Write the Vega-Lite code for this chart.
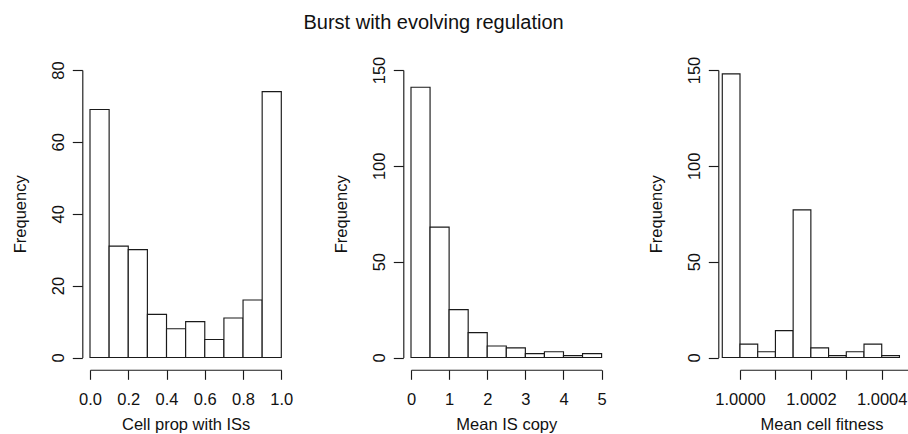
{
  "$schema": "https://vega.github.io/schema/vega-lite/v6.json",
  "background": "white",
  "padding": {"left": 12, "top": 13, "right": 0, "bottom": 0},
  "title": {
    "text": "Burst with evolving regulation",
    "fontSize": 20,
    "fontWeight": "normal",
    "font": "Liberation Sans",
    "color": "#111",
    "anchor": "start",
    "frame": "group",
    "baseline": "alphabetic",
    "offset": 7.2,
    "dx": 213.5
  },
  "datasets": {
    "prop": [
      {"bin_start": 0.0, "bin_end": 0.1, "count": 69},
      {"bin_start": 0.1, "bin_end": 0.2, "count": 31},
      {"bin_start": 0.2, "bin_end": 0.3, "count": 30},
      {"bin_start": 0.3, "bin_end": 0.4, "count": 12},
      {"bin_start": 0.4, "bin_end": 0.5, "count": 8},
      {"bin_start": 0.5, "bin_end": 0.6, "count": 10},
      {"bin_start": 0.6, "bin_end": 0.7, "count": 5},
      {"bin_start": 0.7, "bin_end": 0.8, "count": 11},
      {"bin_start": 0.8, "bin_end": 0.9, "count": 16},
      {"bin_start": 0.9, "bin_end": 1.0, "count": 74}
    ],
    "copy": [
      {"bin_start": 0.0, "bin_end": 0.5, "count": 141},
      {"bin_start": 0.5, "bin_end": 1.0, "count": 68},
      {"bin_start": 1.0, "bin_end": 1.5, "count": 25},
      {"bin_start": 1.5, "bin_end": 2.0, "count": 13},
      {"bin_start": 2.0, "bin_end": 2.5, "count": 6},
      {"bin_start": 2.5, "bin_end": 3.0, "count": 5},
      {"bin_start": 3.0, "bin_end": 3.5, "count": 2},
      {"bin_start": 3.5, "bin_end": 4.0, "count": 3},
      {"bin_start": 4.0, "bin_end": 4.5, "count": 1},
      {"bin_start": 4.5, "bin_end": 5.0, "count": 2}
    ],
    "fit": [
      {"bin_start": 0.99995, "bin_end": 1.0, "count": 148},
      {"bin_start": 1.0, "bin_end": 1.00005, "count": 7},
      {"bin_start": 1.00005, "bin_end": 1.0001, "count": 3},
      {"bin_start": 1.0001, "bin_end": 1.00015, "count": 14},
      {"bin_start": 1.00015, "bin_end": 1.0002, "count": 77},
      {"bin_start": 1.0002, "bin_end": 1.00025, "count": 5},
      {"bin_start": 1.00025, "bin_end": 1.0003, "count": 1},
      {"bin_start": 1.0003, "bin_end": 1.00035, "count": 3},
      {"bin_start": 1.00035, "bin_end": 1.0004, "count": 7},
      {"bin_start": 1.0004, "bin_end": 1.00045, "count": 1}
    ]
  },
  "spacing": 129,
  "bounds": "flush",
  "hconcat": [
    {
      "width": 191.3,
      "height": 287.5,
      "data": {"name": "prop"},
      "mark": {"type": "bar", "fill": "white", "stroke": "#1a1a1a", "strokeWidth": 1.15},
      "encoding": {
        "x": {"field": "bin_start", "type": "quantitative", "scale": {"domain": [0, 1], "nice": false, "zero": false},
              "axis": {"title": "Cell prop with ISs", "values": [0, 0.2, 0.4, 0.6, 0.8, 1], "format": ".1f"}},
        "x2": {"field": "bin_end"},
        "y": {"field": "count", "type": "quantitative", "scale": {"domain": [0, 80], "nice": false},
              "axis": {"title": "Frequency", "values": [0, 20, 40, 60, 80]}},
        "y2": {"datum": 0}
      }
    },
    {
      "width": 199.6,
      "height": 287.5,
      "data": {"name": "copy"},
      "mark": {"type": "bar", "fill": "white", "stroke": "#1a1a1a", "strokeWidth": 1.15},
      "encoding": {
        "x": {"field": "bin_start", "type": "quantitative", "scale": {"domain": [0, 5], "range": [0, 190.6], "nice": false, "zero": false},
              "axis": {"title": "Mean IS copy", "values": [0, 1, 2, 3, 4, 5], "format": "d", "titleX": 95.3}},
        "x2": {"field": "bin_end"},
        "y": {"field": "count", "type": "quantitative", "scale": {"domain": [0, 150], "nice": false},
              "axis": {"title": "Frequency", "values": [0, 50, 100, 150]}},
        "y2": {"datum": 0}
      }
    },
    {
      "width": 168.3,
      "height": 287.5,
      "data": {"name": "fit"},
      "mark": {"type": "bar", "fill": "white", "stroke": "#1a1a1a", "strokeWidth": 1.15},
      "encoding": {
        "x": {"field": "bin_start", "type": "quantitative", "scale": {"domain": [1.0, 1.000475], "nice": false, "zero": false},
              "axis": {"title": "Mean cell fitness", "values": [1.0, 1.0001, 1.0002, 1.0003, 1.0004], "format": ".4f",
                       "labelExpr": "round(datum.value * 10000) % 2 == 0 ? datum.label : ''", "titleX": 81.5}},
        "x2": {"field": "bin_end"},
        "y": {"field": "count", "type": "quantitative", "scale": {"domain": [0, 150], "nice": false},
              "axis": {"title": "Frequency", "values": [0, 50, 100, 150], "offset": 21.7}},
        "y2": {"datum": 0}
      }
    }
  ],
  "config": {
    "view": {"stroke": null},
    "axis": {
      "grid": false,
      "domainColor": "#1a1a1a",
      "tickColor": "#1a1a1a",
      "domainWidth": 1.15,
      "tickWidth": 1.15,
      "labelFont": "Liberation Sans",
      "labelFontSize": 16.5,
      "labelColor": "#111",
      "titleFont": "Liberation Sans",
      "titleFontSize": 16.5,
      "titleFontWeight": "normal",
      "titleColor": "#111",
      "labelOverlap": false,
      "labelFlush": false
    },
    "axisX": {
      "offset": 12.3,
      "tickSize": 9.5,
      "labelBaseline": "alphabetic",
      "labelPadding": 25.5,
      "titleBaseline": "alphabetic",
      "titlePadding": 21.5
    },
    "axisY": {
      "offset": 7.7,
      "tickSize": 10,
      "labelAngle": 270,
      "labelAlign": "center",
      "labelBaseline": "alphabetic",
      "labelPadding": 9,
      "titleAngle": 270,
      "titleBaseline": "alphabetic",
      "titlePadding": 25
    }
  }
}
